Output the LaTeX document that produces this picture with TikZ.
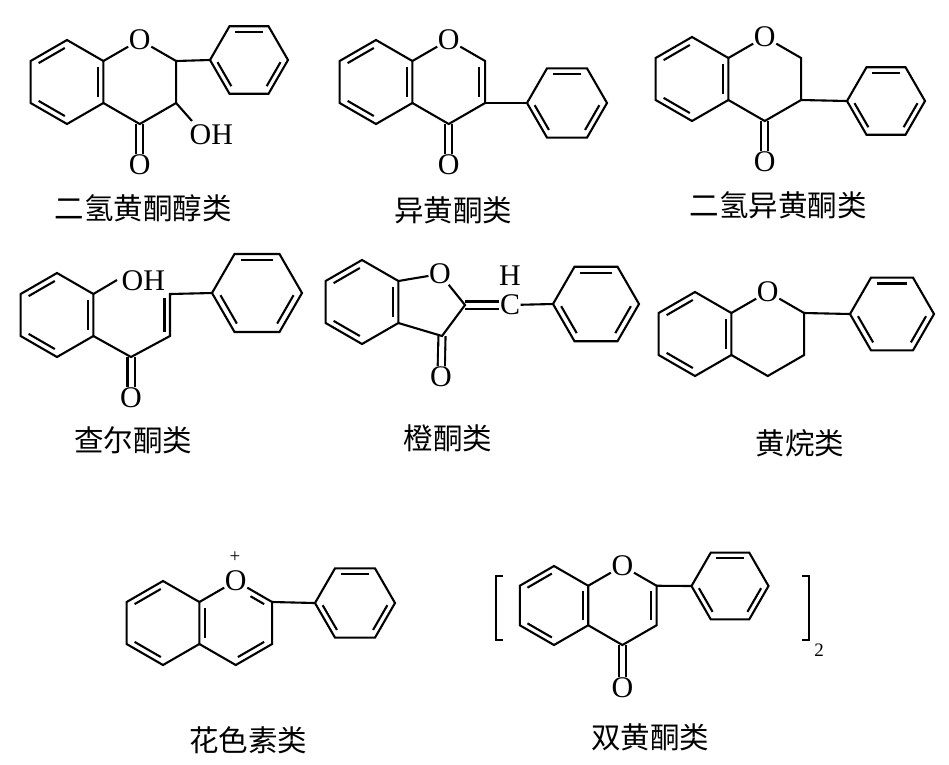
\documentclass[tikz,border=0pt]{standalone}
\usepackage{fontspec}
\setmainfont{Liberation Serif}
\newfontfamily\cjk{Noto Sans CJK SC}
\usetikzlibrary{calc}
\tikzset{
 bond/.style={line width=2.1pt, line join=miter},
 atom/.style={font=\fontsize{30}{32}\selectfont, inner sep=0.5pt},
 lab/.style={font=\cjk\fontsize{29.5}{32}\selectfont, inner sep=0pt},
 smalltxt/.style={font=\fontsize{19}{21}\selectfont, inner sep=0pt},
 innerb/.style={bond, shorten <=2.5pt, shorten >=2.5pt},
 dbl/.style={line width=2.1pt, double=white, double distance=5pt},
}
\newcommand{\hexat}[5]{%
  \coordinate (#1c) at (#2,#3);
  \foreach \kk in {1,...,6}{%
    \coordinate (#1\kk) at ({#2+#4*cos(#5+60*(\kk-1))},{#3-#4*sin(#5+60*(\kk-1))});
  }%
}
\newcommand{\ringdraw}[1]{\draw[bond] (#11)--(#12)--(#13)--(#14)--(#15)--(#16)--cycle;}
\newcommand{\innerl}[3]{\draw[innerb] ($(#1c)!0.84!(#1#2)$) -- ($(#1c)!0.84!(#1#3)$);}
\newcommand{\benzA}[1]{\ringdraw{#1}\innerl{#1}{1}{2}\innerl{#1}{3}{4}\innerl{#1}{5}{6}}
\newcommand{\phen}[1]{\ringdraw{#1}\innerl{#1}{2}{3}\innerl{#1}{4}{5}\innerl{#1}{6}{1}}
\begin{document}
\begin{tikzpicture}[x=1pt,y=-1pt]
\fill[white] (0,0) rectangle (949,764);
\useasboundingbox (0,0) rectangle (949,764);

% ---------- 1: dihydroflavonol ----------
\hexat{a1}{67}{82}{42}{90}
\hexat{c1}{139.75}{82}{42}{90}
\hexat{p1}{249}{60}{39}{0}
\node[atom] (o1) at (c11) {O};
\node[atom] (ok1) at (139.75,165) {O};
\node[atom,anchor=west] (oh1) at (189,135) {OH};
\coordinate (oh1e) at (192,121);
\draw[dbl] (c14) -- (ok1);
\benzA{a1}
\draw[bond] (a16) -- (o1);
\draw[bond] (o1) -- (c16) -- (c15) -- (c14) -- (a15);
\draw[bond] (c15) -- (oh1e);
\draw[bond] (c16) -- (p14);
\phen{p1}
\node[lab] (l1) at (143,208) {二氢黄酮醇类};

% ---------- 2: isoflavone ----------
\hexat{a2}{376}{82}{42}{90}
\hexat{c2}{448.75}{82}{42}{90}
\hexat{p2}{567}{103}{40}{0}
\node[atom] (o2) at (c21) {O};
\node[atom] (ok2) at (448.75,165) {O};
\draw[dbl] (c24) -- (ok2);
\benzA{a2}
\draw[bond] (a26) -- (o2);
\draw[bond] (o2) -- (c26) -- (c25) -- (c24) -- (a25);
\innerl{c2}{6}{5}
\draw[bond] (c25) -- (p24);
\phen{p2}
\node[lab] (l2) at (453,210) {异黄酮类};

% ---------- 3: isoflavanone ----------
\hexat{a3}{692}{79}{42}{90}
\hexat{c3}{764.75}{79}{42}{90}
\hexat{p3}{886}{101}{39}{0}
\node[atom] (o3) at (c31) {O};
\node[atom] (ok3) at (764.75,162) {O};
\draw[dbl] (c34) -- (ok3);
\benzA{a3}
\draw[bond] (a36) -- (o3);
\draw[bond] (o3) -- (c36) -- (c35) -- (c34) -- (a35);
\draw[bond] (c35) -- (p34);
\phen{p3}
\node[lab] (l3) at (778,205) {二氢异黄酮类};

% ---------- 4: chalcone ----------
\hexat{a4}{57}{315}{42}{90}
\hexat{p4}{257}{293}{45}{0}
\coordinate (k4) at (131,357);
\coordinate (ca4) at (170,336);
\coordinate (cb4) at (170,294);
\node[atom,anchor=west] (oh4) at (121,281) {OH};
\coordinate (oh4e) at (117,280);
\node[atom] (ok4) at (131,398) {O};
\draw[dbl] (k4) -- (ok4);
\benzA{a4}
\draw[bond] (a46) -- (oh4e);
\draw[bond] (a45) -- (k4) -- (ca4) -- (cb4) -- (p44);
\draw[bond] ($(ca4)+(-5.5,-4)$) -- ($(cb4)+(-5.5,4)$);
\phen{p4}
\node[lab] (l4) at (133,440) {查尔酮类};

% ---------- 5: aurone ----------
\hexat{a5}{362}{302}{42}{90}
\hexat{p5}{596}{304}{43}{0}
\node[atom] (o5) at (440,274) {O};
\coordinate (c5b) at (465,305);
\coordinate (c5c) at (442,336);
\node[atom] (ok5) at (441,377) {O};
\node[atom] (cc5) at (510,305) {C};
\node[atom] (hh5) at (510,276) {H};
\draw[dbl] (c5c) -- (ok5);
\draw[dbl] (c5b) -- (cc5);
\benzA{a5}
\draw[bond] (a56) -- (o5);
\draw[bond] (o5) -- (c5b) -- (c5c) -- (a55);
\draw[bond] (cc5) -- (p54);
\phen{p5}
\node[lab] (l5) at (448,438) {橙酮类};

% ---------- 6: flavan ----------
\hexat{a6}{695}{334}{42}{90}
\hexat{c6}{767.75}{334}{42}{90}
\hexat{p6}{892}{314}{42}{0}
\node[atom] (o6) at (c61) {O};
\benzA{a6}
\draw[bond] (a66) -- (o6);
\draw[bond] (o6) -- (c66) -- (c65) -- (c64) -- (a65);
\draw[bond] (c66) -- (p64);
\phen{p6}
\node[lab] (l6) at (800,443) {黄烷类};

% ---------- 7: anthocyanidin ----------
\hexat{a7}{163}{623}{42}{90}
\hexat{c7}{235.75}{623}{42}{90}
\hexat{p7}{355}{603}{40}{0}
\node[atom] (o7) at (c71) {O};
\node[smalltxt] (plus7) at (235,557) {+};
\ringdraw{a7}
\innerl{a7}{1}{2}
\innerl{a7}{3}{4}
\draw[bond] (a76) -- (o7);
\draw[bond] (o7) -- (c76) -- (c75) -- (c74) -- (a75);
\innerl{c7}{2}{3}
\innerl{c7}{5}{4}
\draw[innerb, shorten <=17pt] ($(c7c)!0.84!(c71)$) -- ($(c7c)!0.84!(c76)$);
\draw[bond] (c76) -- (p74);
\phen{p7}
\node[lab] (l7) at (248,740) {花色素类};

% ---------- 8: biflavone ----------
\hexat{a8}{554}{605.5}{39.5}{90}
\hexat{c8}{622.4}{605.5}{39.5}{90}
\hexat{p8}{730}{586}{38.5}{0}
\node[atom] (o8) at (c81) {O};
\node[atom] (ok8) at (622.4,688) {O};
\draw[dbl] (c84) -- (ok8);
\benzA{a8}
\draw[bond] (a86) -- (o8);
\draw[bond] (o8) -- (c86) -- (c85) -- (c84) -- (a85);
\innerl{c8}{6}{5}
\draw[bond] (c86) -- (p84);
\phen{p8}
\coordinate (bl1) at (503,576);
\coordinate (bl2) at (496,576);
\coordinate (bl3) at (496,640);
\coordinate (bl4) at (503,640);
\coordinate (br1) at (802,576);
\coordinate (br2) at (809,576);
\coordinate (br3) at (809,640);
\coordinate (br4) at (802,640);
\draw[bond, line width=2.4pt] (bl1) -- (bl2) -- (bl3) -- (bl4);
\draw[bond, line width=2.4pt] (br1) -- (br2) -- (br3) -- (br4);
\node[smalltxt] (sub8) at (819,650) {2};
\node[lab] (l8) at (650,737) {双黄酮类};
\end{tikzpicture}
\end{document}
